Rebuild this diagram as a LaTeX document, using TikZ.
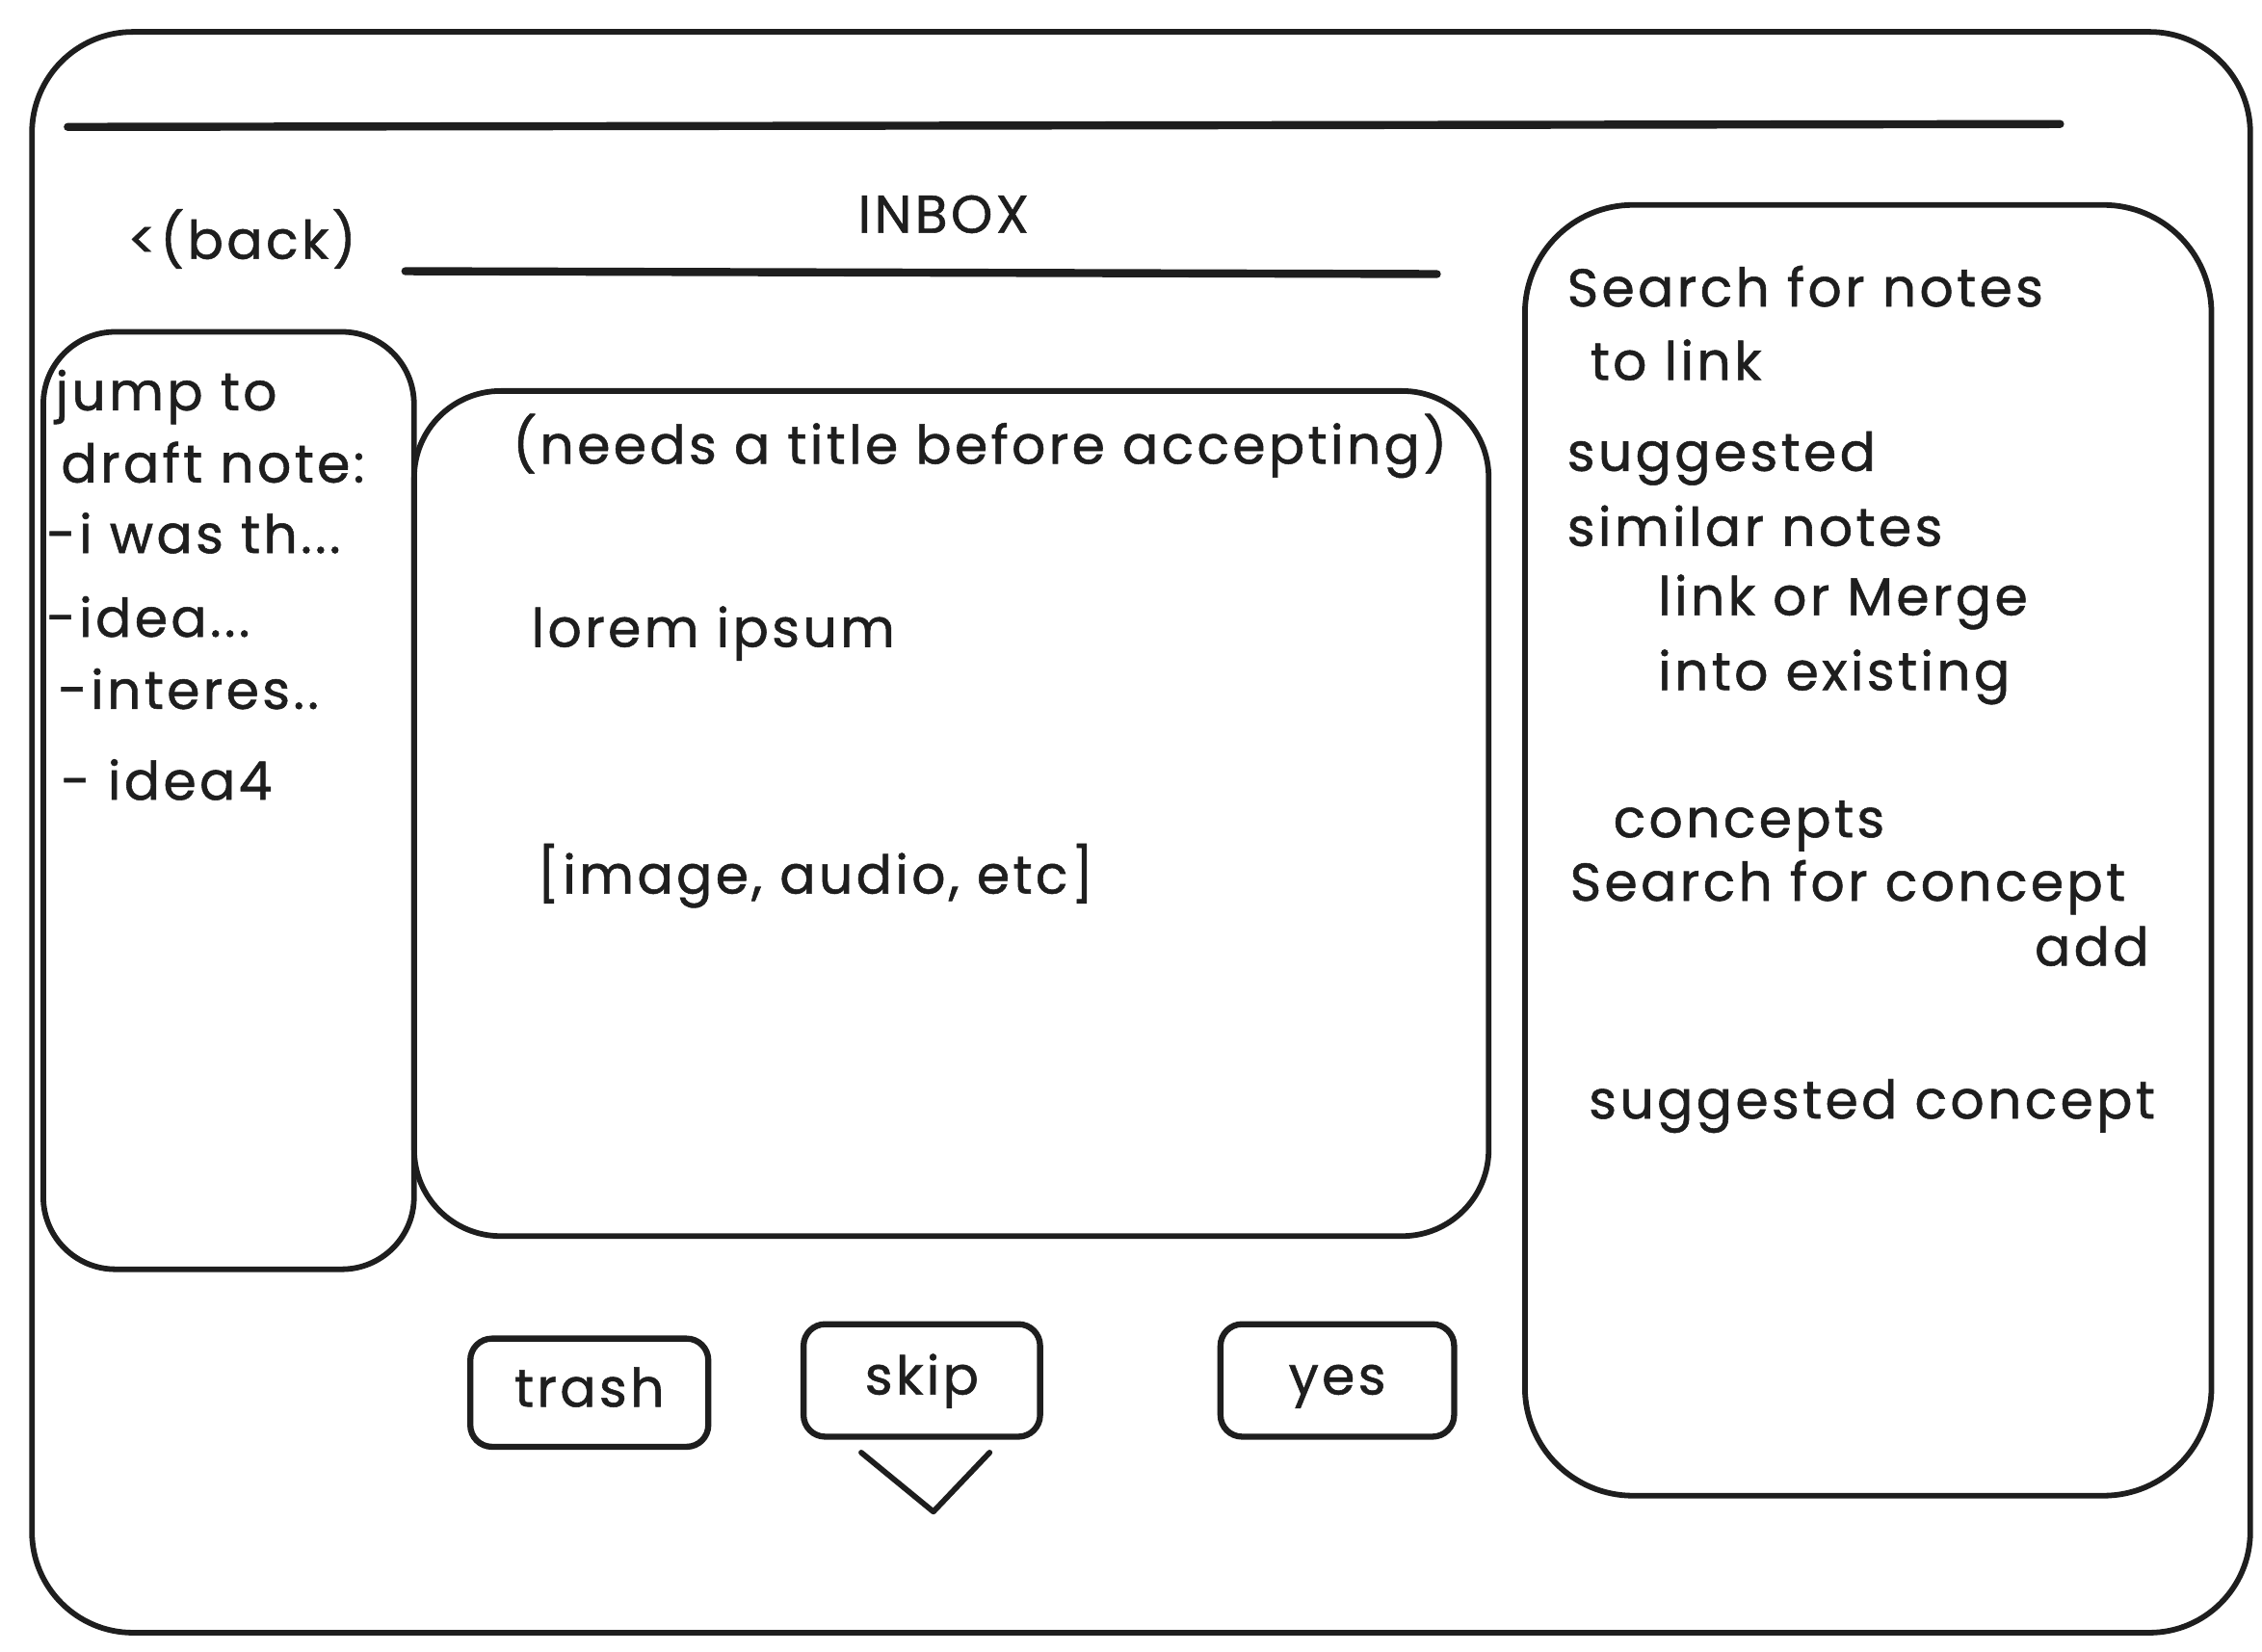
\documentclass[tikz,border=0pt]{standalone}
\usepackage{fontspec}
\setmainfont[LetterSpace=6,FakeBold=1]{Poppins}
\usetikzlibrary{positioning}
\definecolor{ink}{HTML}{1E1E1E}

\begin{document}
\begin{tikzpicture}[x=0.02cm,y=-0.02cm,
    panel/.style={draw=ink,line width=2.2pt,minimum width=#1},
    pen/.style={draw=ink,line width=2.2pt,line cap=round,line join=round},
    bar/.style={draw=ink,line width=3.2pt,line cap=round},
    btn/.style={draw=ink,line width=2.4pt,rounded corners=0.3cm,minimum height=1.5cm,
                font=\fontsize{21}{25}\selectfont,text=ink,text height=16pt,text depth=5pt},
    txt/.style={anchor=west,inner sep=0pt,text=ink,font=\fontsize{21}{25}\selectfont,
                text height=7.5pt,text depth=2.5pt,yshift=-4pt}]
  \useasboundingbox (0,0) rectangle (1568,1145);

  \node[panel=30.76cm,minimum height=22.2cm,rounded corners=1.4cm] (screen) at (791,577) {};
  \draw[bar] (47,88) -- (1428,86);
  \node[txt] (back) at (88,168) {<(back)};
  \node[txt,anchor=center] (inbox) at (654,150) {INBOX};
  \draw[bar] (281,188) -- (996,190);

  % drafts column
  \node[panel=5.14cm,minimum height=13cm,rounded corners=1cm] (drafts) at (158.5,555) {};
  \node[txt] (jump) at (38,273) {jump to};
  \node[txt] (draft) at (42,323) {draft note:};
  \node[txt] (d1) at (32,372) {-i was th...};
  \node[txt] (d2) at (32,430) {-idea...};
  \node[txt] (d3) at (40,480) {-interes..};
  \node[txt] (d4) at (42,543) {- idea4};

  % the note itself
  \node[panel=14.9cm,minimum height=11.72cm,rounded corners=1.2cm] (note) at (659.5,564) {};
  \node[txt] (needs) at (355,310) {(needs a title before accepting)};
  \node[txt] (lorem) at (368,437) {lorem ipsum};
  \node[txt] (media) at (372,608) {[image, audio, etc]};

  % linking side bar
  \node[panel=9.52cm,minimum height=17.9cm,rounded corners=1.5cm] (links) at (1295,589.5) {};
  \node[txt] (search) at (1086,201) {Search for notes};
  \node[txt] (tolink) at (1102,252) {to link};
  \node[txt] (sugg) at (1086,315) {suggested};
  \node[txt] (similar) at (1086,367) {similar notes};
  \node[txt] (merge) at (1149,415) {link or Merge};
  \node[txt] (into) at (1149,467) {into existing};
  \node[txt] (concepts) at (1118,569) {concepts};
  \node[txt] (csearch) at (1088,613) {Search for concept};
  \node[txt,anchor=east] (add) at (1490,658) {add};
  \node[txt] (csugg) at (1101,764) {suggested concept};

  % actions
  \node[btn,minimum width=3.3cm] (trash) at (408.5,965.5) {trash};
  \node[btn,minimum width=3.28cm,minimum height=1.56cm] (skip) at (639,957) {skip};
  \node[btn,minimum width=3.24cm,minimum height=1.56cm] (yes) at (927,957) {yes};
  \coordinate (v1) at (597,1007);
  \coordinate (v2) at (647,1048);
  \coordinate (v3) at (686,1007);
  \draw[pen] (v1) -- (v2) -- (v3);
\end{tikzpicture}
\end{document}
